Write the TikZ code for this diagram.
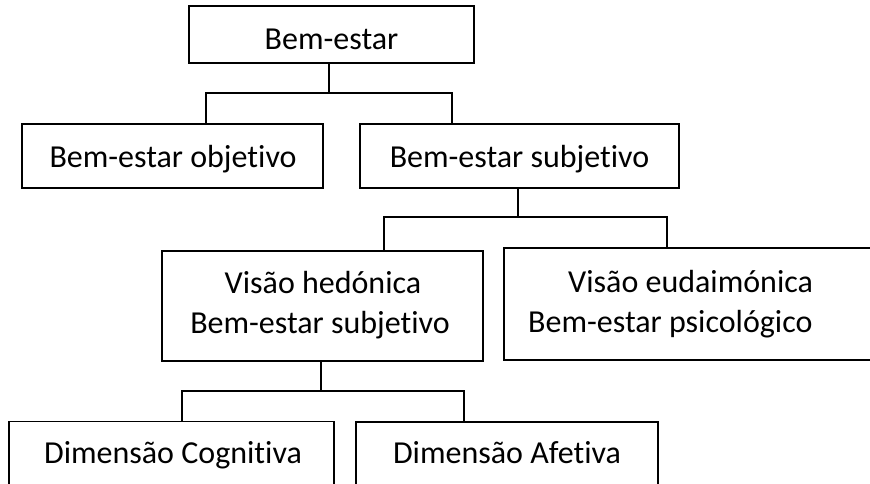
\documentclass[tikz,border=0pt]{standalone}
\usepackage{fontspec}
\setmainfont[Ligatures=NoCommon]{Carlito}
\begin{document}
\begin{tikzpicture}[x=1pt,y=-1pt,
  box/.style={draw, line width=1.1pt, rectangle, inner sep=0pt},
  conn/.style={line width=1.8pt},
  lbl/.style={font=\fontsize{32}{40}\selectfont, inner sep=0pt, anchor=base}]
\useasboundingbox (0,0) rectangle (870,483);
\clip (0,0) rectangle (870,483);
% boxes
\node[box, minimum width=285pt, minimum height=57pt] (b1) at (331.5,34.5) {};
\node[box, minimum width=301pt, minimum height=64pt] (b2) at (172.5,156) {};
\node[box, minimum width=319pt, minimum height=64pt] (b3) at (519.5,156) {};
\node[box, minimum width=321pt, minimum height=110pt] (b4) at (322.5,306) {};
\node[box, minimum width=380pt, minimum height=112pt] (b5) at (694,304) {};
\node[box, minimum width=325pt, minimum height=72pt] (b6) at (171.5,457.5) {};
\node[box, minimum width=302pt, minimum height=72pt] (b7) at (507,458) {};
% texts
\node[lbl] (t1) at (331.5,49) {Bem-estar};
\node[lbl] (t2) at (173,167) {Bem-estar objetivo};
\node[lbl] (t3) at (519.5,167) {Bem-estar subjetivo};
\node[lbl] (t4a) at (323,293) {Visão hedónica};
\node[lbl] (t4b) at (320,333) {Bem-estar subjetivo};
\node[lbl, anchor=base west] (t5a) at (568,292) {Visão eudaimónica};
\node[lbl, anchor=base west] (t5b) at (528,332) {Bem-estar psicológico};
\node[lbl] (t6) at (173,463) {Dimensão Cognitiva};
\node[lbl] (t7) at (507,463) {Dimensão Afetiva};
% junctions
\coordinate (h1l) at (206,93); \coordinate (h1m) at (329,93); \coordinate (h1r) at (452,93);
\coordinate (h2l) at (384,217); \coordinate (h2m) at (518,217); \coordinate (h2r) at (667,217);
\coordinate (h3l) at (182,391); \coordinate (h3m) at (321,391); \coordinate (h3r) at (464,391);
% connectors
\draw[conn] (b1.south -| h1m) -- (h1m);
\draw[conn] (b2.north -| h1l) -- (h1l) -- (h1r) -- (b3.north -| h1r);
\draw[conn] (b3.south -| h2m) -- (h2m);
\draw[conn] (b4.north -| h2l) -- (h2l) -- (h2r) -- (b5.north -| h2r);
\draw[conn] (b4.south -| h3m) -- (h3m);
\draw[conn] (b6.north -| h3l) -- (h3l) -- (h3r) -- (b7.north -| h3r);
\end{tikzpicture}
\end{document}
